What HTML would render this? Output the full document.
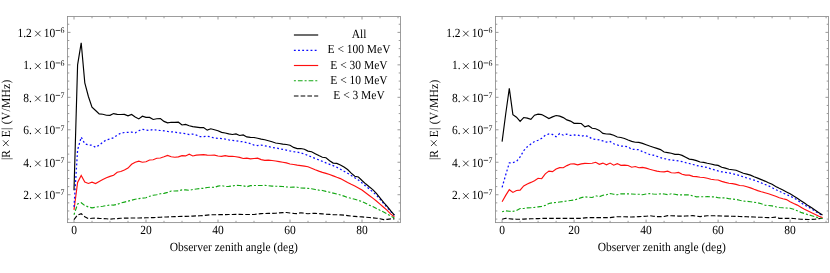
<!DOCTYPE html>
<html><head><meta charset="utf-8"><title>plot</title>
<style>
html,body{margin:0;padding:0;background:#fff;}
svg{display:block;will-change:transform;opacity:0.999;}
text{font-family:"Liberation Serif",serif;font-size:11.5px;fill:#000;text-rendering:geometricPrecision;}
</style></head>
<body>
<svg width="830" height="273" viewBox="0 0 830 273">
<rect width="830" height="273" fill="#fff"/>
<rect x="67.5" y="16.5" width="333.0" height="206.1" fill="none" stroke="#8c8c8c" stroke-width="0.85"/>
<path d="M74.00 222.6v-3.0M74.00 16.5v3.0M92.00 222.6v-1.8M92.00 16.5v1.8M110.00 222.6v-1.8M110.00 16.5v1.8M128.00 222.6v-1.8M128.00 16.5v1.8M146.00 222.6v-3.0M146.00 16.5v3.0M164.00 222.6v-1.8M164.00 16.5v1.8M182.00 222.6v-1.8M182.00 16.5v1.8M200.00 222.6v-1.8M200.00 16.5v1.8M218.00 222.6v-3.0M218.00 16.5v3.0M236.00 222.6v-1.8M236.00 16.5v1.8M254.00 222.6v-1.8M254.00 16.5v1.8M272.00 222.6v-1.8M272.00 16.5v1.8M290.00 222.6v-3.0M290.00 16.5v3.0M308.00 222.6v-1.8M308.00 16.5v1.8M326.00 222.6v-1.8M326.00 16.5v1.8M344.00 222.6v-1.8M344.00 16.5v1.8M362.00 222.6v-3.0M362.00 16.5v3.0M380.00 222.6v-1.8M380.00 16.5v1.8M398.00 222.6v-1.8M398.00 16.5v1.8M67.5 219.08h1.8M400.5 219.08h-1.8M67.5 210.96h1.8M400.5 210.96h-1.8M67.5 202.85h1.8M400.5 202.85h-1.8M67.5 194.73h3.0M400.5 194.73h-3.0M67.5 186.61h1.8M400.5 186.61h-1.8M67.5 178.50h1.8M400.5 178.50h-1.8M67.5 170.38h1.8M400.5 170.38h-1.8M67.5 162.26h3.0M400.5 162.26h-3.0M67.5 154.14h1.8M400.5 154.14h-1.8M67.5 146.02h1.8M400.5 146.02h-1.8M67.5 137.91h1.8M400.5 137.91h-1.8M67.5 129.79h3.0M400.5 129.79h-3.0M67.5 121.67h1.8M400.5 121.67h-1.8M67.5 113.55h1.8M400.5 113.55h-1.8M67.5 105.44h1.8M400.5 105.44h-1.8M67.5 97.32h3.0M400.5 97.32h-3.0M67.5 89.20h1.8M400.5 89.20h-1.8M67.5 81.08h1.8M400.5 81.08h-1.8M67.5 72.97h1.8M400.5 72.97h-1.8M67.5 64.85h3.0M400.5 64.85h-3.0M67.5 56.73h1.8M400.5 56.73h-1.8M67.5 48.62h1.8M400.5 48.62h-1.8M67.5 40.50h1.8M400.5 40.50h-1.8M67.5 32.38h3.0M400.5 32.38h-3.0M67.5 24.26h1.8M400.5 24.26h-1.8" stroke="#8e8e8e" stroke-width="0.9" fill="none"/>
<polyline points="74.0,219.6 77.6,215.0 81.2,213.7 84.8,216.7 88.4,218.6 92.0,218.3 95.6,218.1 99.2,218.4 102.8,218.6 106.4,218.8 110.0,219.1 113.6,218.8 117.2,218.6 120.8,218.3 124.4,218.1 128.0,218.1 131.6,218.0 135.2,218.0 138.8,218.0 142.4,217.9 146.0,217.8 149.6,217.7 153.2,217.6 156.8,217.4 160.4,217.2 164.0,217.0 167.6,216.9 171.2,216.7 174.8,216.6 178.4,216.5 182.0,216.3 185.6,216.3 189.2,216.2 192.8,216.1 196.4,215.9 200.0,215.7 203.6,215.5 207.2,215.1 210.8,214.7 214.4,214.7 218.0,214.7 221.6,214.6 225.2,214.6 228.8,214.5 232.4,214.5 236.0,214.4 239.6,214.4 243.2,214.5 246.8,214.5 250.4,214.5 254.0,214.5 257.6,214.0 261.2,213.6 264.8,213.5 268.4,213.4 272.0,213.4 275.6,213.3 279.2,212.9 282.8,212.6 286.4,212.5 290.0,213.0 293.6,213.4 297.2,213.6 300.8,212.8 304.4,213.3 308.0,213.7 311.6,213.4 315.2,213.3 318.8,213.6 322.4,213.9 326.0,214.2 329.6,214.4 333.2,214.6 336.8,214.7 340.4,214.9 344.0,215.1 347.6,215.6 351.2,216.1 354.8,216.4 358.4,216.7 362.0,216.9 365.6,217.2 369.2,217.5 372.8,217.9 376.4,218.2 380.0,218.7 383.6,219.6 387.2,219.4 390.8,218.9 394.4,218.9" fill="none" stroke="#000" stroke-width="1.15" stroke-dasharray="4.6 2.15" stroke-linejoin="miter"/>
<polyline points="74.0,214.7 77.6,204.0 81.2,202.7 84.8,205.6 88.4,206.9 92.0,207.9 95.6,207.2 99.2,206.7 102.8,206.2 106.4,205.6 110.0,205.0 113.6,205.1 117.2,204.4 120.8,203.0 124.4,202.1 128.0,201.2 131.6,200.2 135.2,199.2 138.8,198.6 142.4,198.1 146.0,197.7 149.6,196.3 153.2,195.3 156.8,194.7 160.4,193.7 164.0,193.4 167.6,192.4 171.2,191.0 174.8,191.0 178.4,190.8 182.0,189.9 185.6,189.9 189.2,190.3 192.8,189.5 196.4,189.0 200.0,188.5 203.6,188.3 207.2,187.5 210.8,187.2 214.4,187.4 218.0,186.1 221.6,185.6 225.2,186.5 228.8,186.4 232.4,185.9 236.0,185.3 239.6,185.5 243.2,185.8 246.8,186.8 250.4,185.6 254.0,185.5 257.6,185.5 261.2,185.5 264.8,185.4 268.4,185.7 272.0,186.1 275.6,186.2 279.2,186.3 282.8,186.5 286.4,186.9 290.0,187.2 293.6,187.1 297.2,187.2 300.8,187.9 304.4,188.1 308.0,188.4 311.6,188.7 315.2,189.5 318.8,190.1 322.4,190.5 326.0,191.4 329.6,192.2 333.2,193.1 336.8,194.0 340.4,195.0 344.0,196.1 347.6,197.4 351.2,198.3 354.8,199.3 358.4,200.3 362.0,201.6 365.6,203.3 369.2,205.1 372.8,206.5 376.4,208.5 380.0,210.3 383.6,212.0 387.2,214.0 390.8,216.1 394.4,217.9" fill="none" stroke="#14a814" stroke-width="1.15" stroke-dasharray="2 2 4.7 2" stroke-linejoin="miter"/>
<polyline points="74.0,209.8 77.6,182.5 81.2,175.4 84.8,182.1 88.4,183.5 92.0,182.1 95.6,183.5 99.2,181.5 102.8,179.6 106.4,177.8 110.0,176.4 113.6,175.2 117.2,172.3 120.8,171.5 124.4,170.0 128.0,168.1 131.6,164.3 135.2,162.2 138.8,161.2 142.4,162.2 146.0,161.8 149.6,160.0 153.2,159.7 156.8,158.3 160.4,158.0 164.0,156.8 167.6,155.4 171.2,156.8 174.8,157.2 178.4,156.9 182.0,155.6 185.6,155.9 189.2,154.2 192.8,156.0 196.4,155.1 200.0,154.9 203.6,154.7 207.2,155.1 210.8,155.2 214.4,155.1 218.0,156.0 221.6,156.3 225.2,155.7 228.8,156.3 232.4,156.3 236.0,156.7 239.6,157.4 243.2,158.5 246.8,158.2 250.4,158.9 254.0,158.5 257.6,158.2 261.2,159.6 264.8,160.4 268.4,160.2 272.0,160.5 275.6,161.0 279.2,161.6 282.8,162.2 286.4,162.9 290.0,164.0 293.6,164.5 297.2,165.1 300.8,165.6 304.4,166.1 308.0,166.7 311.6,168.2 315.2,169.7 318.8,171.1 322.4,172.4 326.0,173.4 329.6,174.5 333.2,175.9 336.8,177.3 340.4,178.6 344.0,180.5 347.6,182.5 351.2,184.3 354.8,185.9 358.4,187.9 362.0,190.1 365.6,192.8 369.2,195.5 372.8,198.1 376.4,201.0 380.0,204.1 383.6,207.2 387.2,210.3 390.8,214.1 394.4,216.8" fill="none" stroke="#ff0f0f" stroke-width="1.15" stroke-linejoin="miter"/>
<polyline points="74.0,206.9 77.6,150.0 81.2,137.1 84.8,143.8 88.4,144.9 92.0,145.2 95.6,147.3 99.2,145.2 102.8,142.2 106.4,139.8 110.0,139.0 113.6,137.8 117.2,135.1 120.8,133.2 124.4,132.5 128.0,132.4 131.6,132.1 135.2,132.8 138.8,130.7 142.4,129.3 146.0,130.1 149.6,130.5 153.2,129.4 156.8,130.3 160.4,130.5 164.0,130.8 167.6,131.4 171.2,131.8 174.8,132.0 178.4,132.9 182.0,133.2 185.6,133.6 189.2,134.5 192.8,134.1 196.4,135.1 200.0,136.6 203.6,136.7 207.2,136.3 210.8,136.9 214.4,138.1 218.0,138.3 221.6,138.6 225.2,139.1 228.8,139.8 232.4,140.4 236.0,140.7 239.6,141.4 243.2,141.8 246.8,142.7 250.4,143.6 254.0,145.1 257.6,145.5 261.2,145.1 264.8,145.8 268.4,146.6 272.0,147.4 275.6,147.9 279.2,148.6 282.8,149.4 286.4,150.2 290.0,151.0 293.6,151.6 297.2,152.0 300.8,152.9 304.4,154.1 308.0,155.5 311.6,157.0 315.2,158.5 318.8,159.9 322.4,161.4 326.0,162.9 329.6,164.3 333.2,165.7 336.8,167.3 340.4,169.2 344.0,171.2 347.6,173.2 351.2,175.5 354.8,177.7 358.4,180.1 362.0,182.9 365.6,186.0 369.2,188.9 372.8,191.9 376.4,195.1 380.0,199.1 383.6,203.5 387.2,207.6 390.8,211.6 394.4,215.3" fill="none" stroke="#0a0aff" stroke-width="1.25" stroke-dasharray="1.85 2.31" stroke-linejoin="miter"/>
<polyline points="74.0,190.3 77.6,64.9 81.2,42.8 84.8,82.8 88.4,96.5 92.0,107.1 95.6,110.5 99.2,113.9 102.8,114.2 106.4,115.2 110.0,115.3 113.6,113.6 117.2,114.4 120.8,114.5 124.4,114.4 128.0,115.9 131.6,114.5 135.2,116.9 138.8,118.9 142.4,116.2 146.0,117.4 149.6,117.4 153.2,119.5 156.8,118.7 160.4,118.6 164.0,121.4 167.6,122.8 171.2,122.3 174.8,122.3 178.4,122.2 182.0,125.0 185.6,124.4 189.2,125.7 192.8,126.6 196.4,127.1 200.0,127.6 203.6,127.6 207.2,130.1 210.8,128.8 214.4,129.7 218.0,130.8 221.6,132.4 225.2,133.0 228.8,133.9 232.4,134.5 236.0,133.9 239.6,135.5 243.2,134.9 246.8,136.9 250.4,137.4 254.0,137.5 257.6,138.3 261.2,139.1 264.8,139.7 268.4,140.7 272.0,141.8 275.6,143.0 279.2,143.5 282.8,144.1 286.4,144.5 290.0,145.3 293.6,147.4 297.2,148.6 300.8,148.5 304.4,149.2 308.0,151.1 311.6,151.7 315.2,153.7 318.8,155.6 322.4,157.2 326.0,157.8 329.6,160.7 333.2,163.1 336.8,163.4 340.4,164.9 344.0,167.0 347.6,169.5 351.2,173.2 354.8,176.2 358.4,177.0 362.0,180.5 365.6,183.8 369.2,186.8 372.8,189.6 376.4,193.4 380.0,197.8 383.6,202.4 387.2,206.4 390.8,210.9 394.4,215.1" fill="none" stroke="#000" stroke-width="1.15" stroke-linejoin="miter"/>
<text transform="translate(74.00,233.80) scale(1,1.08)" text-anchor="middle">0</text>
<text transform="translate(146.00,233.80) scale(1,1.08)" text-anchor="middle">20</text>
<text transform="translate(218.00,233.80) scale(1,1.08)" text-anchor="middle">40</text>
<text transform="translate(290.00,233.80) scale(1,1.08)" text-anchor="middle">60</text>
<text transform="translate(362.00,233.80) scale(1,1.08)" text-anchor="middle">80</text>
<text transform="translate(31.80,36.93) scale(1,1.08)" text-anchor="end">1.2</text>
<path d="M35.10 30.83L40.60 36.33M35.10 36.33L40.60 30.83" stroke="#000" stroke-width="0.75" fill="none"/>
<text transform="translate(43.80,36.93) scale(1,1.08)" text-anchor="start">10</text>
<path d="M55.70 30.48h4.4" stroke="#000" stroke-width="0.7" fill="none"/>
<text transform="translate(60.60,33.13) scale(1,1.08)" text-anchor="start" style="font-size:7.9px">6</text>
<text transform="translate(31.80,69.40) scale(1,1.08)" text-anchor="end">1.</text>
<path d="M35.10 63.30L40.60 68.80M35.10 68.80L40.60 63.30" stroke="#000" stroke-width="0.75" fill="none"/>
<text transform="translate(43.80,69.40) scale(1,1.08)" text-anchor="start">10</text>
<path d="M55.70 62.95h4.4" stroke="#000" stroke-width="0.7" fill="none"/>
<text transform="translate(60.60,65.60) scale(1,1.08)" text-anchor="start" style="font-size:7.9px">6</text>
<text transform="translate(31.80,101.87) scale(1,1.08)" text-anchor="end">8.</text>
<path d="M35.10 95.77L40.60 101.27M35.10 101.27L40.60 95.77" stroke="#000" stroke-width="0.75" fill="none"/>
<text transform="translate(43.80,101.87) scale(1,1.08)" text-anchor="start">10</text>
<path d="M55.70 95.42h4.4" stroke="#000" stroke-width="0.7" fill="none"/>
<text transform="translate(60.60,98.07) scale(1,1.08)" text-anchor="start" style="font-size:7.9px">7</text>
<text transform="translate(31.80,134.34) scale(1,1.08)" text-anchor="end">6.</text>
<path d="M35.10 128.24L40.60 133.74M35.10 133.74L40.60 128.24" stroke="#000" stroke-width="0.75" fill="none"/>
<text transform="translate(43.80,134.34) scale(1,1.08)" text-anchor="start">10</text>
<path d="M55.70 127.89h4.4" stroke="#000" stroke-width="0.7" fill="none"/>
<text transform="translate(60.60,130.54) scale(1,1.08)" text-anchor="start" style="font-size:7.9px">7</text>
<text transform="translate(31.80,166.81) scale(1,1.08)" text-anchor="end">4.</text>
<path d="M35.10 160.71L40.60 166.21M35.10 166.21L40.60 160.71" stroke="#000" stroke-width="0.75" fill="none"/>
<text transform="translate(43.80,166.81) scale(1,1.08)" text-anchor="start">10</text>
<path d="M55.70 160.36h4.4" stroke="#000" stroke-width="0.7" fill="none"/>
<text transform="translate(60.60,163.01) scale(1,1.08)" text-anchor="start" style="font-size:7.9px">7</text>
<text transform="translate(31.80,199.28) scale(1,1.08)" text-anchor="end">2.</text>
<path d="M35.10 193.18L40.60 198.68M35.10 198.68L40.60 193.18" stroke="#000" stroke-width="0.75" fill="none"/>
<text transform="translate(43.80,199.28) scale(1,1.08)" text-anchor="start">10</text>
<path d="M55.70 192.83h4.4" stroke="#000" stroke-width="0.7" fill="none"/>
<text transform="translate(60.60,195.48) scale(1,1.08)" text-anchor="start" style="font-size:7.9px">7</text>
<text transform="translate(233.70,250.60) scale(1,1.08)" text-anchor="middle">Observer zenith angle (deg)</text>
<text transform="translate(10.20,160.0) rotate(-90) scale(1,1.08)" text-anchor="start">|R</text>
<path d="M2.95 140.35L8.65 146.05M2.95 146.05L8.65 140.35" stroke="#000" stroke-width="0.75" fill="none"/>
<text transform="translate(10.20,137.3) rotate(-90) scale(1,1.08)" text-anchor="start" textLength="57.6" lengthAdjust="spacing">E| (V/MHz)</text>
<path d="M293.9 35.0H318.2" fill="none" stroke="#000" stroke-width="1.15"/>
<text transform="translate(359.00,38.10) scale(1,1.08)" text-anchor="middle">All</text>
<path d="M293.9 50.4H318.2" fill="none" stroke="#0a0aff" stroke-width="1.25" stroke-dasharray="1.85 2.31"/>
<text transform="translate(359.00,53.35) scale(1,1.08)" text-anchor="middle">E &lt; 100 MeV</text>
<path d="M293.9 65.5H318.2" fill="none" stroke="#ff0f0f" stroke-width="1.15"/>
<text transform="translate(359.00,68.60) scale(1,1.08)" text-anchor="middle">E &lt; 30 MeV</text>
<path d="M293.9 80.7H318.2" fill="none" stroke="#14a814" stroke-width="1.15" stroke-dasharray="2 2 4.7 2"/>
<text transform="translate(359.00,83.85) scale(1,1.08)" text-anchor="middle">E &lt; 10 MeV</text>
<path d="M293.9 96.0H318.2" fill="none" stroke="#000" stroke-width="1.15" stroke-dasharray="4.6 2.15"/>
<text transform="translate(359.00,99.10) scale(1,1.08)" text-anchor="middle">E &lt; 3 MeV</text>
<rect x="495.5" y="16.5" width="333.0" height="206.1" fill="none" stroke="#8c8c8c" stroke-width="0.85"/>
<path d="M502.10 222.6v-3.0M502.10 16.5v3.0M520.10 222.6v-1.8M520.10 16.5v1.8M538.10 222.6v-1.8M538.10 16.5v1.8M556.10 222.6v-1.8M556.10 16.5v1.8M574.10 222.6v-3.0M574.10 16.5v3.0M592.10 222.6v-1.8M592.10 16.5v1.8M610.10 222.6v-1.8M610.10 16.5v1.8M628.10 222.6v-1.8M628.10 16.5v1.8M646.10 222.6v-3.0M646.10 16.5v3.0M664.10 222.6v-1.8M664.10 16.5v1.8M682.10 222.6v-1.8M682.10 16.5v1.8M700.10 222.6v-1.8M700.10 16.5v1.8M718.10 222.6v-3.0M718.10 16.5v3.0M736.10 222.6v-1.8M736.10 16.5v1.8M754.10 222.6v-1.8M754.10 16.5v1.8M772.10 222.6v-1.8M772.10 16.5v1.8M790.10 222.6v-3.0M790.10 16.5v3.0M808.10 222.6v-1.8M808.10 16.5v1.8M826.10 222.6v-1.8M826.10 16.5v1.8M495.5 219.08h1.8M828.5 219.08h-1.8M495.5 210.96h1.8M828.5 210.96h-1.8M495.5 202.85h1.8M828.5 202.85h-1.8M495.5 194.73h3.0M828.5 194.73h-3.0M495.5 186.61h1.8M828.5 186.61h-1.8M495.5 178.50h1.8M828.5 178.50h-1.8M495.5 170.38h1.8M828.5 170.38h-1.8M495.5 162.26h3.0M828.5 162.26h-3.0M495.5 154.14h1.8M828.5 154.14h-1.8M495.5 146.02h1.8M828.5 146.02h-1.8M495.5 137.91h1.8M828.5 137.91h-1.8M495.5 129.79h3.0M828.5 129.79h-3.0M495.5 121.67h1.8M828.5 121.67h-1.8M495.5 113.55h1.8M828.5 113.55h-1.8M495.5 105.44h1.8M828.5 105.44h-1.8M495.5 97.32h3.0M828.5 97.32h-3.0M495.5 89.20h1.8M828.5 89.20h-1.8M495.5 81.08h1.8M828.5 81.08h-1.8M495.5 72.97h1.8M828.5 72.97h-1.8M495.5 64.85h3.0M828.5 64.85h-3.0M495.5 56.73h1.8M828.5 56.73h-1.8M495.5 48.62h1.8M828.5 48.62h-1.8M495.5 40.50h1.8M828.5 40.50h-1.8M495.5 32.38h3.0M828.5 32.38h-3.0M495.5 24.26h1.8M828.5 24.26h-1.8" stroke="#8e8e8e" stroke-width="0.9" fill="none"/>
<polyline points="502.1,219.2 505.7,218.3 509.3,218.7 512.9,219.1 516.5,219.2 520.1,219.2 523.7,219.1 527.3,218.9 530.9,218.8 534.5,218.7 538.1,218.6 541.7,218.4 545.3,218.3 548.9,218.3 552.5,218.4 556.1,218.4 559.7,218.4 563.3,218.4 566.9,218.3 570.5,218.3 574.1,218.3 577.7,218.3 581.3,218.3 584.9,217.9 588.5,217.6 592.1,217.6 595.7,217.6 599.3,217.6 602.9,217.6 606.5,217.6 610.1,217.6 613.7,217.1 617.3,216.7 620.9,216.7 624.5,216.8 628.1,216.9 631.7,217.0 635.3,216.8 638.9,216.6 642.5,216.5 646.1,216.3 649.7,215.7 653.3,216.2 656.9,216.6 660.5,216.6 664.1,216.5 667.7,215.7 671.3,215.8 674.9,215.9 678.5,216.1 682.1,216.1 685.7,216.0 689.3,215.8 692.9,215.7 696.5,216.2 700.1,216.6 703.7,216.1 707.3,215.7 710.9,215.7 714.5,215.8 718.1,215.9 721.7,216.0 725.3,216.1 728.9,216.2 732.5,216.3 736.1,216.4 739.7,216.5 743.3,216.6 746.9,216.8 750.5,216.9 754.1,217.0 757.7,217.2 761.3,217.3 764.9,217.5 768.5,217.6 772.1,217.5 775.7,217.1 779.3,218.3 782.9,218.3 786.5,218.3 790.1,218.4 793.7,218.5 797.3,218.9 800.9,219.3 804.5,219.4 808.1,219.5 811.7,219.4 815.3,219.1 818.9,218.6 822.5,218.2" fill="none" stroke="#000" stroke-width="1.15" stroke-dasharray="4.6 2.15" stroke-linejoin="miter"/>
<polyline points="502.1,211.8 505.7,210.8 509.3,211.3 512.9,211.4 516.5,210.5 520.1,208.5 523.7,208.5 527.3,207.9 530.9,207.7 534.5,207.4 538.1,206.9 541.7,206.4 545.3,205.4 548.9,203.5 552.5,202.7 556.1,202.5 559.7,202.0 563.3,201.5 566.9,201.0 570.5,200.5 574.1,200.0 577.7,199.0 581.3,197.6 584.9,196.9 588.5,197.2 592.1,197.5 595.7,195.8 599.3,196.7 602.9,195.3 606.5,194.8 610.1,193.5 613.7,194.3 617.3,194.7 620.9,193.9 624.5,193.8 628.1,193.8 631.7,194.0 635.3,194.2 638.9,194.3 642.5,194.7 646.1,194.0 649.7,193.5 653.3,194.0 656.9,194.2 660.5,193.8 664.1,194.0 667.7,194.6 671.3,193.8 674.9,194.3 678.5,194.9 682.1,194.9 685.7,194.9 689.3,194.9 692.9,195.9 696.5,196.8 700.1,196.7 703.7,196.8 707.3,196.7 710.9,196.8 714.5,196.8 718.1,197.7 721.7,197.9 725.3,197.8 728.9,198.7 732.5,199.1 736.1,199.4 739.7,200.3 743.3,201.1 746.9,201.3 750.5,201.7 754.1,202.3 757.7,202.7 761.3,203.8 764.9,205.2 768.5,205.5 772.1,205.9 775.7,206.8 779.3,207.5 782.9,207.8 786.5,208.0 790.1,208.2 793.7,209.2 797.3,210.8 800.9,212.4 804.5,213.5 808.1,214.7 811.7,215.7 815.3,216.9 818.9,217.8 822.5,218.4" fill="none" stroke="#14a814" stroke-width="1.15" stroke-dasharray="2 2 4.7 2" stroke-linejoin="miter"/>
<polyline points="502.1,201.7 505.7,195.4 509.3,189.7 512.9,192.4 516.5,190.5 520.1,190.1 523.7,185.9 527.3,184.0 530.9,182.4 534.5,180.7 538.1,178.3 541.7,178.7 545.3,173.9 548.9,171.1 552.5,171.6 556.1,169.0 559.7,167.6 563.3,167.7 566.9,165.6 570.5,164.0 574.1,163.9 577.7,164.8 581.3,163.9 584.9,163.4 588.5,163.5 592.1,163.3 595.7,162.3 599.3,164.3 602.9,163.1 606.5,164.8 610.1,163.1 613.7,165.2 617.3,163.6 620.9,165.3 624.5,165.1 628.1,165.5 631.7,167.2 635.3,166.5 638.9,167.7 642.5,167.4 646.1,168.1 649.7,169.3 653.3,170.2 656.9,171.1 660.5,171.7 664.1,171.9 667.7,171.2 671.3,172.7 674.9,173.0 678.5,172.4 682.1,174.2 685.7,175.1 689.3,175.1 692.9,176.4 696.5,176.6 700.1,177.2 703.7,177.5 707.3,178.3 710.9,179.2 714.5,179.8 718.1,180.0 721.7,181.4 725.3,182.4 728.9,183.3 732.5,183.6 736.1,184.4 739.7,185.5 743.3,185.7 746.9,186.7 750.5,187.9 754.1,189.3 757.7,190.6 761.3,191.7 764.9,192.7 768.5,193.7 772.1,195.0 775.7,196.3 779.3,197.7 782.9,198.7 786.5,199.6 790.1,201.7 793.7,203.5 797.3,205.1 800.9,207.2 804.5,209.2 808.1,210.9 811.7,212.8 815.3,214.5 818.9,216.2 822.5,217.5" fill="none" stroke="#ff0f0f" stroke-width="1.15" stroke-linejoin="miter"/>
<polyline points="502.1,187.3 505.7,174.9 509.3,162.9 512.9,162.6 516.5,161.4 520.1,157.0 523.7,150.7 527.3,146.8 530.9,144.0 534.5,141.6 538.1,140.3 541.7,138.3 545.3,135.3 548.9,134.0 552.5,134.4 556.1,136.8 559.7,133.6 563.3,135.2 566.9,134.1 570.5,135.4 574.1,135.0 577.7,135.1 581.3,136.2 584.9,135.5 588.5,136.6 592.1,138.9 595.7,139.4 599.3,139.9 602.9,140.9 606.5,142.1 610.1,141.5 613.7,143.8 617.3,144.9 620.9,146.2 624.5,146.2 628.1,146.9 631.7,149.4 635.3,149.4 638.9,149.7 642.5,151.7 646.1,153.0 649.7,154.5 653.3,155.2 656.9,156.3 660.5,157.7 664.1,158.5 667.7,159.4 671.3,160.0 674.9,160.4 678.5,161.0 682.1,161.6 685.7,162.6 689.3,163.5 692.9,164.5 696.5,165.5 700.1,166.3 703.7,166.9 707.3,167.5 710.9,168.9 714.5,169.9 718.1,170.9 721.7,171.8 725.3,172.3 728.9,172.9 732.5,173.6 736.1,174.6 739.7,175.6 743.3,176.9 746.9,178.0 750.5,179.0 754.1,180.1 757.7,181.5 761.3,182.9 764.9,184.4 768.5,185.8 772.1,187.7 775.7,189.6 779.3,191.2 782.9,193.0 786.5,194.6 790.1,196.1 793.7,197.9 797.3,200.0 800.9,202.8 804.5,204.9 808.1,206.9 811.7,209.0 815.3,211.4 818.9,213.6 822.5,215.5" fill="none" stroke="#0a0aff" stroke-width="1.25" stroke-dasharray="1.85 2.31" stroke-linejoin="miter"/>
<polyline points="502.1,141.6 505.7,114.0 509.3,88.4 512.9,114.6 516.5,117.2 520.1,121.3 523.7,117.5 527.3,118.1 530.9,119.3 534.5,115.2 538.1,114.2 541.7,114.6 545.3,116.5 548.9,118.5 552.5,116.9 556.1,115.5 559.7,116.1 563.3,117.6 566.9,119.9 570.5,121.1 574.1,123.3 577.7,123.3 581.3,123.5 584.9,126.8 588.5,125.7 592.1,128.2 595.7,128.8 599.3,130.4 602.9,133.4 606.5,134.0 610.1,134.1 613.7,135.2 617.3,137.0 620.9,137.5 624.5,138.5 628.1,140.0 631.7,141.4 635.3,142.3 638.9,142.4 642.5,143.4 646.1,144.7 649.7,146.0 653.3,147.2 656.9,148.4 660.5,149.6 664.1,152.0 667.7,152.6 671.3,153.3 674.9,154.4 678.5,154.3 682.1,155.4 685.7,157.3 689.3,159.1 692.9,159.6 696.5,160.6 700.1,162.0 703.7,162.4 707.3,163.3 710.9,164.0 714.5,164.9 718.1,165.4 721.7,167.3 725.3,168.1 728.9,169.2 732.5,169.7 736.1,170.3 739.7,171.8 743.3,173.3 746.9,174.1 750.5,175.1 754.1,176.7 757.7,178.1 761.3,179.6 764.9,181.1 768.5,182.8 772.1,184.3 775.7,186.4 779.3,188.3 782.9,190.0 786.5,191.9 790.1,193.8 793.7,196.1 797.3,198.2 800.9,200.7 804.5,203.1 808.1,205.6 811.7,207.8 815.3,210.3 818.9,212.7 822.5,215.1" fill="none" stroke="#000" stroke-width="1.15" stroke-linejoin="miter"/>
<text transform="translate(502.10,233.80) scale(1,1.08)" text-anchor="middle">0</text>
<text transform="translate(574.10,233.80) scale(1,1.08)" text-anchor="middle">20</text>
<text transform="translate(646.10,233.80) scale(1,1.08)" text-anchor="middle">40</text>
<text transform="translate(718.10,233.80) scale(1,1.08)" text-anchor="middle">60</text>
<text transform="translate(790.10,233.80) scale(1,1.08)" text-anchor="middle">80</text>
<text transform="translate(460.50,36.93) scale(1,1.08)" text-anchor="end">1.2</text>
<path d="M463.10 30.83L468.60 36.33M463.10 36.33L468.60 30.83" stroke="#000" stroke-width="0.75" fill="none"/>
<text transform="translate(471.80,36.93) scale(1,1.08)" text-anchor="start">10</text>
<path d="M483.70 30.48h4.4" stroke="#000" stroke-width="0.7" fill="none"/>
<text transform="translate(488.60,33.13) scale(1,1.08)" text-anchor="start" style="font-size:7.9px">6</text>
<text transform="translate(460.50,69.40) scale(1,1.08)" text-anchor="end">1.</text>
<path d="M463.10 63.30L468.60 68.80M463.10 68.80L468.60 63.30" stroke="#000" stroke-width="0.75" fill="none"/>
<text transform="translate(471.80,69.40) scale(1,1.08)" text-anchor="start">10</text>
<path d="M483.70 62.95h4.4" stroke="#000" stroke-width="0.7" fill="none"/>
<text transform="translate(488.60,65.60) scale(1,1.08)" text-anchor="start" style="font-size:7.9px">6</text>
<text transform="translate(460.50,101.87) scale(1,1.08)" text-anchor="end">8.</text>
<path d="M463.10 95.77L468.60 101.27M463.10 101.27L468.60 95.77" stroke="#000" stroke-width="0.75" fill="none"/>
<text transform="translate(471.80,101.87) scale(1,1.08)" text-anchor="start">10</text>
<path d="M483.70 95.42h4.4" stroke="#000" stroke-width="0.7" fill="none"/>
<text transform="translate(488.60,98.07) scale(1,1.08)" text-anchor="start" style="font-size:7.9px">7</text>
<text transform="translate(460.50,134.34) scale(1,1.08)" text-anchor="end">6.</text>
<path d="M463.10 128.24L468.60 133.74M463.10 133.74L468.60 128.24" stroke="#000" stroke-width="0.75" fill="none"/>
<text transform="translate(471.80,134.34) scale(1,1.08)" text-anchor="start">10</text>
<path d="M483.70 127.89h4.4" stroke="#000" stroke-width="0.7" fill="none"/>
<text transform="translate(488.60,130.54) scale(1,1.08)" text-anchor="start" style="font-size:7.9px">7</text>
<text transform="translate(460.50,166.81) scale(1,1.08)" text-anchor="end">4.</text>
<path d="M463.10 160.71L468.60 166.21M463.10 166.21L468.60 160.71" stroke="#000" stroke-width="0.75" fill="none"/>
<text transform="translate(471.80,166.81) scale(1,1.08)" text-anchor="start">10</text>
<path d="M483.70 160.36h4.4" stroke="#000" stroke-width="0.7" fill="none"/>
<text transform="translate(488.60,163.01) scale(1,1.08)" text-anchor="start" style="font-size:7.9px">7</text>
<text transform="translate(460.50,199.28) scale(1,1.08)" text-anchor="end">2.</text>
<path d="M463.10 193.18L468.60 198.68M463.10 198.68L468.60 193.18" stroke="#000" stroke-width="0.75" fill="none"/>
<text transform="translate(471.80,199.28) scale(1,1.08)" text-anchor="start">10</text>
<path d="M483.70 192.83h4.4" stroke="#000" stroke-width="0.7" fill="none"/>
<text transform="translate(488.60,195.48) scale(1,1.08)" text-anchor="start" style="font-size:7.9px">7</text>
<text transform="translate(661.70,250.60) scale(1,1.08)" text-anchor="middle">Observer zenith angle (deg)</text>
<text transform="translate(438.20,160.0) rotate(-90) scale(1,1.08)" text-anchor="start">|R</text>
<path d="M430.95 140.35L436.65 146.05M430.95 146.05L436.65 140.35" stroke="#000" stroke-width="0.75" fill="none"/>
<text transform="translate(438.20,137.3) rotate(-90) scale(1,1.08)" text-anchor="start" textLength="57.6" lengthAdjust="spacing">E| (V/MHz)</text>
</svg>
</body></html>
